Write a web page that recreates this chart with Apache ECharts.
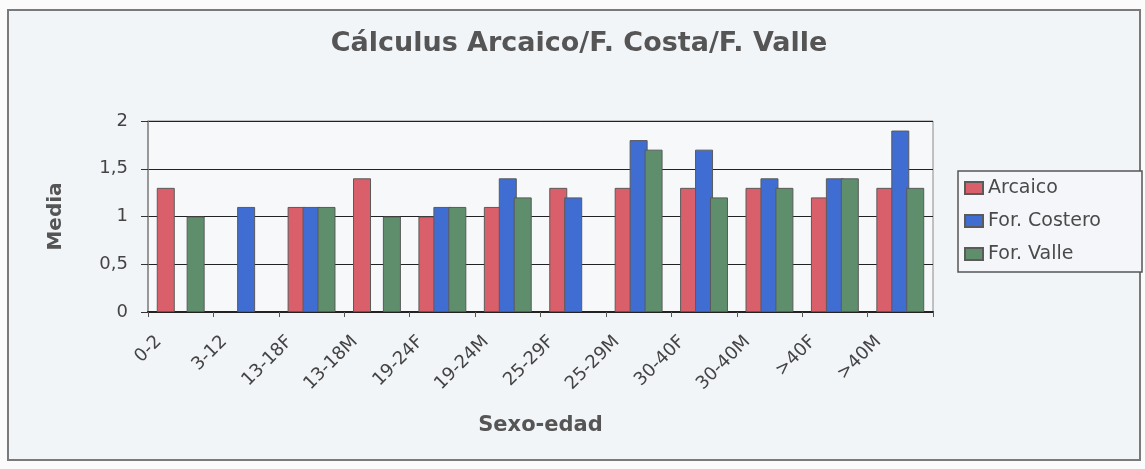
<!DOCTYPE html>
<html>
<head>
<meta charset="utf-8">
<style>
html,body{margin:0;padding:0;background:#fbfbfb;}
#chart{width:1145px;height:469px;}
</style>
<script src="https://cdn.jsdelivr.net/npm/echarts@6/dist/echarts.min.js"></script>
</head>
<body>
<div id="chart"></div>
<script>
const categories = ['0-2', '3-12', '13-18F', '13-18M', '19-24F', '19-24M', '25-29F', '25-29M', '30-40F', '30-40M', '>40F', '>40M'];
const arcaico = [1.3, null, 1.1, 1.4, 1.0, 1.1, 1.3, 1.3, 1.3, 1.3, 1.2, 1.3];
const forCostero = [null, 1.1, 1.1, null, 1.1, 1.4, 1.2, 1.8, 1.7, 1.4, 1.4, 1.9];
const forValle = [1.0, null, 1.1, 1.0, 1.1, 1.2, null, 1.7, 1.2, 1.3, 1.4, 1.3];
const seriesNames = ['Arcaico', 'For. Costero', 'For. Valle'];
const colors = ['#d9606a', '#3f6dd2', '#5f8e6c'];

const FONT = 'DejaVu Sans';
const chart = echarts.init(document.getElementById('chart'), null, {renderer: 'canvas'});

function bar(name, data, color) {
  return {
    name: name, type: 'bar', data: data,
    barWidth: 18, barGap: '-17%',
    itemStyle: {color: color, borderColor: '#5a5a5a', borderWidth: 1}
  };
}

chart.setOption({
  animation: false,
  backgroundColor: '#fbfbfb',
  graphic: [
    {type: 'rect', z: -10, shape: {x: 8, y: 10, width: 1132, height: 450},
     style: {fill: '#f2f5f8', stroke: '#7a7a7a', lineWidth: 2}},
    {type: 'rect', z: -5, shape: {x: 958, y: 171, width: 184, height: 101},
     style: {fill: '#f4f6f9', stroke: '#555', lineWidth: 1.5}}
  ],
  title: {
    text: 'Cálculus Arcaico/F. Costa/F. Valle',
    left: 579, top: 30, textAlign: 'center', padding: 0,
    textStyle: {fontFamily: FONT, fontSize: 27, fontWeight: 'bold', color: '#555'}
  },
  legend: {
    orient: 'vertical', left: 964, top: 178, padding: 0,
    itemWidth: 18, itemHeight: 12, itemGap: 13, icon: 'rect',
    textStyle: {fontFamily: FONT, fontSize: 19, lineHeight: 20, color: '#4a4a4a'},
    data: seriesNames
  },
  grid: {
    left: 148, top: 121, width: 785, height: 191,
    show: true, backgroundColor: '#f6f8fa', borderColor: '#8a8a8a', borderWidth: 1,
    outerBoundsMode: 'none'
  },
  xAxis: {
    type: 'category', data: categories,
    name: 'Sexo-edad', nameLocation: 'middle', nameGap: 103,
    nameTextStyle: {fontFamily: FONT, fontSize: 21, fontWeight: 'bold', color: '#555'},
    axisLine: {lineStyle: {color: '#222', width: 2}},
    axisTick: {show: true, length: 5, lineStyle: {color: '#555'}},
    axisLabel: {rotate: 45, margin: 5, padding: [0, 31, 0, 0], interval: 0,
      fontFamily: FONT, fontSize: 18, color: '#444'}
  },
  yAxis: {
    type: 'value', min: 0, max: 2, interval: 0.5,
    name: 'Media', nameLocation: 'middle', nameGap: 82,
    nameTextStyle: {fontFamily: FONT, fontSize: 20, fontWeight: 'bold', color: '#555'},
    axisLine: {show: true, lineStyle: {color: '#8a8a8a', width: 1.5}},
    axisTick: {show: true, length: 7, lineStyle: {color: '#333'}},
    splitLine: {lineStyle: {color: '#222', width: 1.2}},
    axisLabel: {margin: 20, fontFamily: FONT, fontSize: 18, color: '#444',
      formatter: v => String(v).replace('.', ',')}
  },
  series: [
    bar(seriesNames[0], arcaico, colors[0]),
    bar(seriesNames[1], forCostero, colors[1]),
    bar(seriesNames[2], forValle, colors[2])
  ]
});
</script>
</body>
</html>
